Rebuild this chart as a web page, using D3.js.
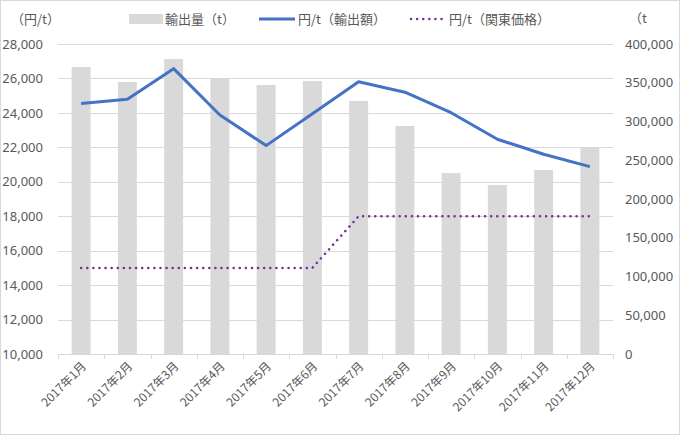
<!DOCTYPE html>
<html><head><meta charset="utf-8">
<script src="https://cdn.jsdelivr.net/npm/d3@7"></script>
<style>
body{margin:0;background:#fff;}
text{font-family:"Noto Sans CJK JP","Noto Sans",sans-serif;fill:#595959;}
</style></head>
<body><svg id="c" width="680" height="435"></svg>
<script>
const categories = ["2017年1月","2017年2月","2017年3月","2017年4月","2017年5月","2017年6月","2017年7月","2017年8月","2017年9月","2017年10月","2017年11月","2017年12月"];
const exportVolume = [370300,351000,380600,355700,347100,352300,326500,294200,233500,218100,237400,266700];
const exportPrice = [24550,24790,26570,23880,22100,23950,25810,25200,24010,22470,21600,20880];
const kantoPrice = [15000,15000,15000,15000,15000,15000,18000,18000,18000,18000,18000,18000];
const leftTicks = [10000,12000,14000,16000,18000,20000,22000,24000,26000,28000];
const rightTicks = [0,50000,100000,150000,200000,250000,300000,350000,400000];
const legendLabels = ["輸出量（t）","円/t（輸出額）","円/t（関東価格）"];

const svg = d3.select("#c");
const W=680,H=435;
svg.append("rect").attr("x",0.5).attr("y",0.5).attr("width",W-1).attr("height",H-1).attr("fill","#fff").attr("stroke","#d9d9d9");

const L=58,R=613,T=44,B=354;
const x = d3.scaleBand().domain(categories).range([L,R]).paddingInner(0.59).paddingOuter(0.295);
const yL = d3.scaleLinear().domain([10000,28000]).range([B,T]);
const yR = d3.scaleLinear().domain([0,400000]).range([B,T]);
const fmt = d3.format(",");

// gridlines
svg.append("g").selectAll("line").data(leftTicks.slice(1)).join("line")
  .attr("x1",L).attr("x2",R).attr("y1",d=>Math.round(yL(d))+0.5).attr("y2",d=>Math.round(yL(d))+0.5)
  .attr("stroke","#d9d9d9").attr("stroke-width",1);

// bars
svg.append("g").selectAll("rect").data(exportVolume).join("rect")
  .attr("x",(d,i)=>x(categories[i])).attr("width",x.bandwidth())
  .attr("y",d=>yR(d)).attr("height",d=>B-yR(d)).attr("fill","#d9d9d9");

// bottom axis line with ticks between categories
svg.append("line").attr("x1",L).attr("x2",R).attr("y1",B+0.5).attr("y2",B+0.5).attr("stroke","#d9d9d9");
svg.append("g").selectAll("line").data(d3.range(categories.length+1)).join("line")
  .attr("x1",i=>Math.round(L+i*(R-L)/categories.length)+0.5).attr("x2",i=>Math.round(L+i*(R-L)/categories.length)+0.5)
  .attr("y1",B).attr("y2",B+5).attr("stroke","#d9d9d9");

// left axis labels
const axL = d3.axisLeft(yL).tickValues(leftTicks).tickFormat(fmt).tickSize(0).tickPadding(0);
const gL = svg.append("g").attr("transform",`translate(43,0)`).call(axL);
gL.select(".domain").remove();
gL.selectAll("text").attr("font-size",13).attr("fill","#595959").style("font-family","'Noto Sans','DejaVu Sans',sans-serif");

// right axis labels
const axR = d3.axisRight(yR).tickValues(rightTicks).tickFormat(fmt).tickSize(0).tickPadding(0);
const gR = svg.append("g").attr("transform",`translate(625,0)`).call(axR);
gR.select(".domain").remove();
gR.selectAll("text").attr("font-size",13).attr("fill","#595959").style("font-family","'Noto Sans','DejaVu Sans',sans-serif");

// x labels
svg.append("g").selectAll("text").data(categories).join("text")
  .attr("transform",d=>`translate(${x(d)+x.bandwidth()/2+3},${B+10}) rotate(-45)`)
  .attr("text-anchor","end").attr("dy","0.35em").attr("font-size",12).text(d=>d);

// lines
const cx = (d,i)=>x(categories[i])+x.bandwidth()/2;
svg.append("path").datum(exportPrice)
  .attr("d",d3.line().x(cx).y(d=>yL(d)))
  .attr("fill","none").attr("stroke","#4472c4").attr("stroke-width",3).attr("stroke-linejoin","round");
svg.append("path").datum(kantoPrice)
  .attr("d",d3.line().x(cx).y(d=>yL(d)))
  .attr("fill","none").attr("stroke","#7030a0").attr("stroke-width",2.5)
  .attr("stroke-dasharray","0.1 6").attr("stroke-linecap","round");

// axis titles
svg.append("text").attr("x",11).attr("y",24).attr("font-size",13).text("（円/t）");
svg.append("text").attr("x",629).attr("y",23).attr("font-size",13).text("（t");

// legend
const lg = svg.append("g");
lg.append("rect").attr("x",129).attr("y",14).attr("width",34).attr("height",10).attr("fill","#d9d9d9");
lg.append("text").attr("x",165).attr("y",24).attr("font-size",13).text(legendLabels[0]);
lg.append("line").attr("x1",259).attr("x2",295).attr("y1",19).attr("y2",19).attr("stroke","#4472c4").attr("stroke-width",3);
lg.append("text").attr("x",298).attr("y",24).attr("font-size",13).text(legendLabels[1]);
lg.append("line").attr("x1",411).attr("x2",444).attr("y1",19).attr("y2",19).attr("stroke","#7030a0").attr("stroke-width",2.5).attr("stroke-dasharray","0.1 6").attr("stroke-linecap","round");
lg.append("text").attr("x",449).attr("y",24).attr("font-size",13).text(legendLabels[2]);
</script></body></html>
